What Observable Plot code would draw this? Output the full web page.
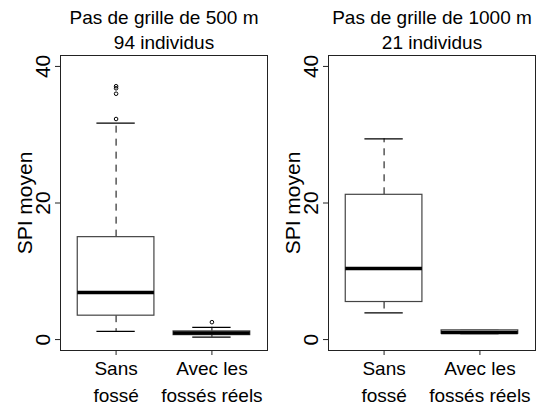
<!DOCTYPE html>
<html>
<head>
<meta charset="utf-8">
<script src="https://cdn.jsdelivr.net/npm/d3@7"></script>
<script src="https://cdn.jsdelivr.net/npm/@observablehq/plot@0.6"></script>
<style>
  html, body { margin: 0; padding: 0; background: #fff; }
  #wrap { display: flex; flex-direction: row; width: 537px; height: 408px; }
  #wrap svg { display: block; }
</style>
</head>
<body>
<div id="wrap"></div>
<script>
// ---- data ----
const categories = ["Sans\nfossé", "Avec les\nfossés réels"];
const positions = [1, 2];
const yTicks = [0, 20, 40];
const yLabel = "SPI moyen";

const titles = ["Pas de grille de 500 m", "Pas de grille de 1000 m"];
const subtitles = ["94 individus", "21 individus"];

// grid 500 m
const q1_500 = [3.5, 0.65];
const median_500 = [6.9, 0.95];
const q3_500 = [15.0, 1.2];
const lo_500 = [1.2, 0.35];
const hi_500 = [31.7, 1.8];
const out_500 = [[32.3, 36.0, 36.8, 37.1], [2.55]];

// grid 1000 m
const q1_1000 = [5.5, 0.85];
const median_1000 = [10.4, 1.05];
const q3_1000 = [21.2, 1.35];
const lo_1000 = [3.9, 0.85];
const hi_1000 = [29.4, 1.35];
const out_1000 = [[], []];

function buildRows(q1, med, q3, lo, hi) {
  return positions.map((p, i) => ({pos: p, cat: categories[i], q1: q1[i], med: med[i], q3: q3[i], lo: lo[i], hi: hi[i]}));
}
function buildOutliers(out) {
  const res = [];
  out.forEach((vals, i) => vals.forEach(v => res.push({pos: positions[i], v})));
  return res;
}

const halfBox = 0.4, halfCap = 0.2;

function panel(title, subtitle, rows, outs, width, marginRight) {
  return Plot.plot({
    width, height: 408,
    marginLeft: 60, marginRight, marginTop: 55, marginBottom: 58,
    style: {fontFamily: "'Liberation Sans', Arial, sans-serif", background: "#fff", color: "#000"},
    x: {type: "linear", domain: [0.42, 2.58]},
    y: {domain: [-1.6, 41.6]},
    marks: [
      Plot.frame({stroke: "#222", strokeWidth: 1}),
      Plot.axisY({ticks: yTicks, tickSize: 5, tickFormat: () => "", label: null, stroke: "#222"}),
      Plot.axisX({ticks: positions, tickSize: 5, tickFormat: () => "", label: null, stroke: "#222"}),
      // y tick labels (rotated)
      Plot.text(yTicks, {y: d => d, text: d => String(d), frameAnchor: "left", dx: -17, rotate: -90, textAnchor: "middle", lineAnchor: "middle", fontSize: 21, fill: "#000"}),
      // y label
      Plot.text([yLabel], {text: d => d, frameAnchor: "left", dx: -35, rotate: -90, textAnchor: "middle", lineAnchor: "middle", fontSize: 21, fill: "#000"}),
      // x labels
      Plot.text(rows, {x: "pos", text: "cat", frameAnchor: "bottom", lineAnchor: "top", dy: 5.5, lineHeight: 1.43, fontSize: 19, fill: "#000"}),
      // titles
      Plot.text([title], {text: d => d, frameAnchor: "top", lineAnchor: "middle", dy: -38, fontSize: 19, fill: "#000"}),
      Plot.text([subtitle], {text: d => d, frameAnchor: "top", lineAnchor: "middle", dy: -13, fontSize: 19, fill: "#000"}),
      // whiskers (dashed), drawn from box edge to cap
      Plot.ruleX(rows, {x: "pos", y1: "q3", y2: "hi", stroke: "#000", strokeWidth: 1, strokeDasharray: "7,6"}),
      Plot.ruleX(rows, {x: "pos", y1: "q1", y2: "lo", stroke: "#000", strokeWidth: 1, strokeDasharray: "7,6"}),
      // caps
      Plot.ruleY(rows, {y: "hi", x1: d => d.pos - halfCap, x2: d => d.pos + halfCap, stroke: "#000", strokeWidth: 1.2}),
      Plot.ruleY(rows, {y: "lo", x1: d => d.pos - halfCap, x2: d => d.pos + halfCap, stroke: "#000", strokeWidth: 1.2}),
      // boxes
      Plot.rect(rows, {x1: d => d.pos - halfBox, x2: d => d.pos + halfBox, y1: "q1", y2: "q3", fill: "#fff", stroke: "#444", strokeWidth: 1.2}),
      // medians
      Plot.ruleY(rows, {y: "med", x1: d => d.pos - halfBox, x2: d => d.pos + halfBox, stroke: "#000", strokeWidth: 3.5}),
      // outliers
      Plot.dot(outs, {x: "pos", y: "v", r: 1.8, stroke: "#000", strokeWidth: 1, fill: "none"})
    ]
  });
}

const wrap = document.getElementById("wrap");
wrap.appendChild(panel(titles[0], subtitles[0], buildRows(q1_500, median_500, q3_500, lo_500, hi_500), buildOutliers(out_500), 268, 1));
wrap.appendChild(panel(titles[1], subtitles[1], buildRows(q1_1000, median_1000, q3_1000, lo_1000, hi_1000), buildOutliers(out_1000), 269, 2));
</script>
</body>
</html>
